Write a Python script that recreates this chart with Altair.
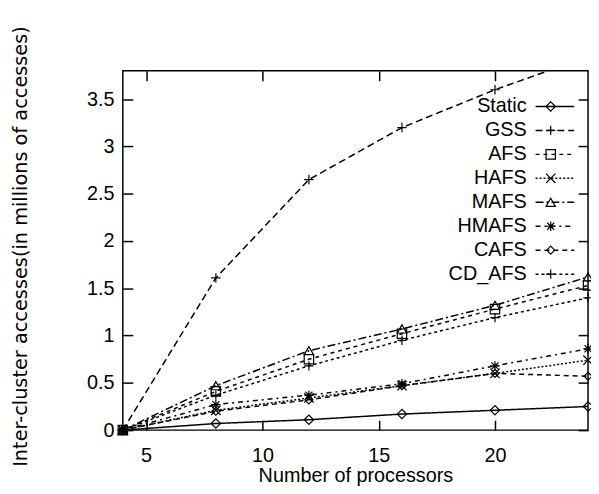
import altair as alt
import pandas as pd

procs = [4, 8, 12, 16, 20, 24]
series_names = ["Static", "GSS", "AFS", "HAFS", "MAFS", "HMAFS", "CAFS", "CD_AFS"]
static = [0, 0.07, 0.11, 0.17, 0.21, 0.25]
gss = [0, 1.61, 2.65, 3.20, 3.60, 3.95]
afs = [0, 0.41, 0.75, 1.02, 1.28, 1.53]
hafs = [0, 0.21, 0.34, 0.47, 0.60, 0.74]
mafs = [0, 0.47, 0.84, 1.07, 1.32, 1.62]
hmafs = [0, 0.27, 0.37, 0.49, 0.68, 0.86]
cafs = [0, 0.20, 0.32, 0.47, 0.60, 0.57]
cd_afs = [0, 0.37, 0.68, 0.95, 1.19, 1.40]

x_ticks = [5, 10, 15, 20]
y_ticks = [0, 0.5, 1, 1.5, 2, 2.5, 3, 3.5]

series_values = [static, gss, afs, hafs, mafs, hmafs, cafs, cd_afs]

dashes = [[1, 0], [7, 4], [4, 4], [2, 2], [8, 3, 2, 3], [5, 4, 2, 4], [5, 4], [3, 3]]
plus = "M-1,0H1M0,-1V1"
xmark = "M-1,-1L1,1M-1,1L1,-1"
asterisk = "M-1,0H1M0,-1V1M-0.75,-0.75L0.75,0.75M-0.75,0.75L0.75,-0.75"
small_diamond = "M0,-0.85L0.85,0L0,0.85L-0.85,0Z"
shapes = ["diamond", plus, "square", xmark, "triangle-up", asterisk, small_diamond, plus]

rows = []
for name, vals in zip(series_names, series_values):
    for p, v in zip(procs, vals):
        rows.append({"procs": p, "value": v, "series": name})
df = pd.DataFrame(rows)

FONT = "Liberation Sans"
xscale = alt.Scale(domain=[4, 24], nice=False, zero=False)
yscale = alt.Scale(domain=[0, 3.8], nice=False)

tick_axis = dict(labels=False, domain=False, grid=False, title=None,
                 tickSize=10, tickWidth=1.5, tickColor="black", offset={"expr": "-10"})

legend_rows = dict(orient="none", legendY=26, title=None, labelFont=FONT,
                   labelFontSize=20, labelColor="black", clipHeight=20,
                   rowPadding=4.2, padding=0)

lines = alt.Chart(df).mark_line(color="black", strokeWidth=1.5, clip=True).encode(
    x=alt.X("procs:Q", scale=xscale,
            axis=alt.Axis(orient="bottom", values=x_ticks, format="d", ticks=False,
                          tickSize=0, domain=False, grid=False, labelPadding=15.5,
                          labelFont=FONT, labelFontSize=20, labelColor="black",
                          title="Number of processors", titleFont=FONT, titleFontSize=20,
                          titleFontWeight="normal", titleColor="black", titleY=52,
                          titleBaseline="alphabetic")),
    y=alt.Y("value:Q", scale=yscale,
            axis=alt.Axis(orient="left", values=y_ticks, format="~g", ticks=False,
                          tickSize=0, domain=False, grid=False, labelPadding=9,
                          labelFont=FONT, labelFontSize=20, labelColor="black",
                          title="Inter-cluster accesses(in millions of accesses)",
                          titleFont="DejaVu Sans", titleFontSize=19.5, titleFontWeight="normal",
                          titleColor="black", titleX=-97.5, titleY=177, titleAngle=270,
                          titleAlign="center", titleBaseline="alphabetic")),
    strokeDash=alt.StrokeDash(
        "series:N",
        scale=alt.Scale(domain=series_names, range=dashes),
        legend=alt.Legend(legendX=416, symbolType="M-1,0L1,0", symbolSize=1521,
                          symbolStrokeColor="black", symbolFillColor="transparent",
                          symbolOpacity=1, symbolStrokeWidth=1.5, labelExpr="' '",
                          **legend_rows)),
    order="procs:Q",
)

points = alt.Chart(df).transform_filter("datum.value <= 3.8").mark_point(
    filled=False, color="black", size=90, strokeWidth=1.2, opacity=1
).encode(
    x=alt.X("procs:Q", scale=xscale, axis=alt.Axis(orient="bottom", values=x_ticks, **tick_axis)),
    y=alt.Y("value:Q", scale=yscale, axis=alt.Axis(orient="left", values=y_ticks, **tick_axis)),
    shape=alt.Shape(
        "series:N",
        scale=alt.Scale(domain=series_names, range=shapes),
        legend=alt.Legend(legendX=422.3, symbolSize=90, symbolStrokeColor="black",
                          symbolFillColor="transparent", symbolStrokeWidth=1.2,
                          labelExpr="' '", **legend_rows)),
)

mirror = alt.Chart(df).mark_point(opacity=0).encode(
    x=alt.X("procs:Q", scale=xscale, axis=alt.Axis(orient="top", values=x_ticks, **tick_axis)),
    y=alt.Y("value:Q", scale=yscale, axis=alt.Axis(orient="right", values=y_ticks, **tick_axis)),
    color=alt.Color(
        "series:N",
        scale=alt.Scale(domain=series_names, range=["black"]),
        legend=alt.Legend(legendX=408, symbolSize=100, symbolOpacity=0,
                          labelAlign="right", labelOffset={"expr": "-20"},
                          **legend_rows)),
)

chart = alt.layer(lines, points, mirror).resolve_axis(
    x="independent", y="independent"
).resolve_legend(
    strokeDash="independent", shape="independent", color="independent"
).properties(
    width=470, height=363,
    autosize=alt.AutoSizeParams(type="none"),
    padding={"left": 116, "top": 61, "right": 3, "bottom": 57},
    background="white",
).configure_view(stroke="black", strokeWidth=1.5)

chart.save("out.html", embed_options={"renderer": "svg", "actions": False})
